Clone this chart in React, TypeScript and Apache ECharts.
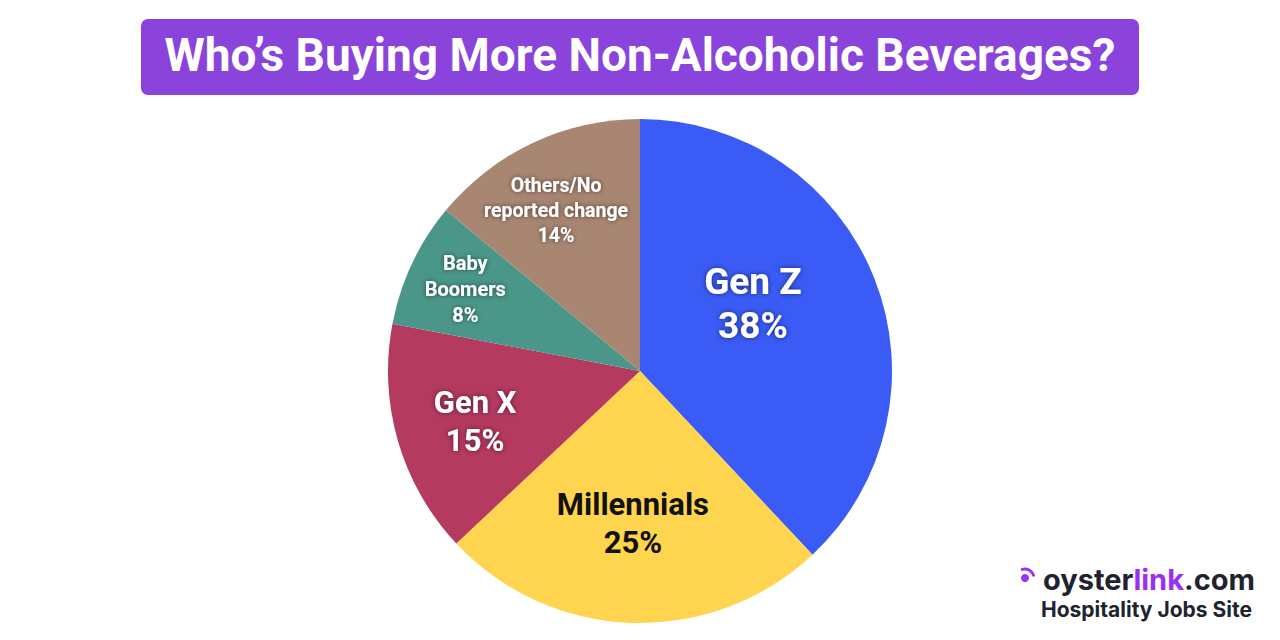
import React, { useEffect, useRef } from "react";
import * as echarts from "echarts";

const title = "Who’s Buying More Non-Alcoholic Beverages?";
const categories = ["Gen Z", "Millennials", "Gen X", "Baby Boomers", "Others/No reported change"];
const labelNames = ["Gen Z", "Millennials", "Gen X", "Baby\nBoomers", "Others/No\nreported change"];
const values = [38, 25, 15, 8, 14];
const colors = ["#3A5BF6", "#FFD54F", "#B43A60", "#4A978A", "#A88672"];

export default function App() {
  const ref = useRef<HTMLDivElement>(null);
  useEffect(() => {
    const chart = echarts.init(ref.current!, null, { renderer: "svg" });
    const styles = [
      { size: 37, lh: 44, color: "#fff", shadow: true, offset: [-7, -20] },
      { size: 31, lh: 38, color: "#111", shadow: false, offset: [-3, 24] },
      { size: 31, lh: 38, color: "#fff", shadow: true, offset: [-41, 15] },
      { size: 20, lh: 26, color: "#fff", shadow: true, offset: [-58, -27] },
      { size: 19.5, lh: 25, color: "#fff", shadow: true, offset: [-29, -44] },
    ];
    const data = categories.map((c, i) => ({
      name: c,
      value: values[i],
      itemStyle: { color: colors[i] },
      label: {
        formatter: `${labelNames[i]}\n${values[i]}%`,
        fontSize: styles[i].size,
        lineHeight: styles[i].lh,
        color: styles[i].color,
        offset: styles[i].offset,
        textShadowColor: styles[i].shadow ? "rgba(0,0,0,0.55)" : "transparent",
        textShadowBlur: styles[i].shadow ? 5 : 0,
      },
    }));
    chart.setOption({
      animation: false,
      backgroundColor: "#ffffff",
      graphic: [
        {
          type: "rect",
          shape: { x: 141, y: 19, width: 998, height: 76, r: 7 },
          style: { fill: "#8A43DB" },
        },
        {
          type: "text",
          x: 640,
          y: 55,
          style: {
            text: title,
            fill: "#ffffff",
            font: "bold 46px Roboto",
            align: "center",
            verticalAlign: "middle",
          },
        },
        {
          type: "circle",
          shape: { cx: 1025, cy: 578, r: 4 },
          style: { fill: "#9B30F0" },
        },
        {
          type: "arc",
          shape: { cx: 1025, cy: 578, r: 9, startAngle: -Math.PI * 0.6, endAngle: -Math.PI * 0.1 },
          style: { stroke: "#9B30F0", lineWidth: 3, fill: "none", lineCap: "round" },
        },
        {
          type: "text",
          x: 1255,
          y: 579,
          style: {
            text: "{a|oyster}{b|link}{a|.com}",
            align: "right",
            verticalAlign: "middle",
            rich: {
              a: { fill: "#1F2330", font: "bold 29px Inter" },
              b: { fill: "#9B30F0", font: "bold 29px Inter" },
            },
          },
        },
        {
          type: "text",
          x: 1252,
          y: 609,
          style: {
            text: "Hospitality Jobs Site",
            fill: "#1F2330",
            font: "bold 21px Inter",
            align: "right",
            verticalAlign: "middle",
          },
        },
      ],
      series: [
        {
          type: "pie",
          center: [640, 371],
          radius: [0, 252],
          startAngle: 90,
          clockwise: true,
          data,
          label: {
            show: true,
            position: "inside",
            fontFamily: "Roboto",
            fontWeight: "bold",
          },
          labelLine: { show: false },
          emphasis: { disabled: true },
        },
      ],
    });
    return () => chart.dispose();
  }, []);
  return <div ref={ref} style={{ width: 1280, height: 640, position: "absolute", left: 0, top: 0 }} />;
}
